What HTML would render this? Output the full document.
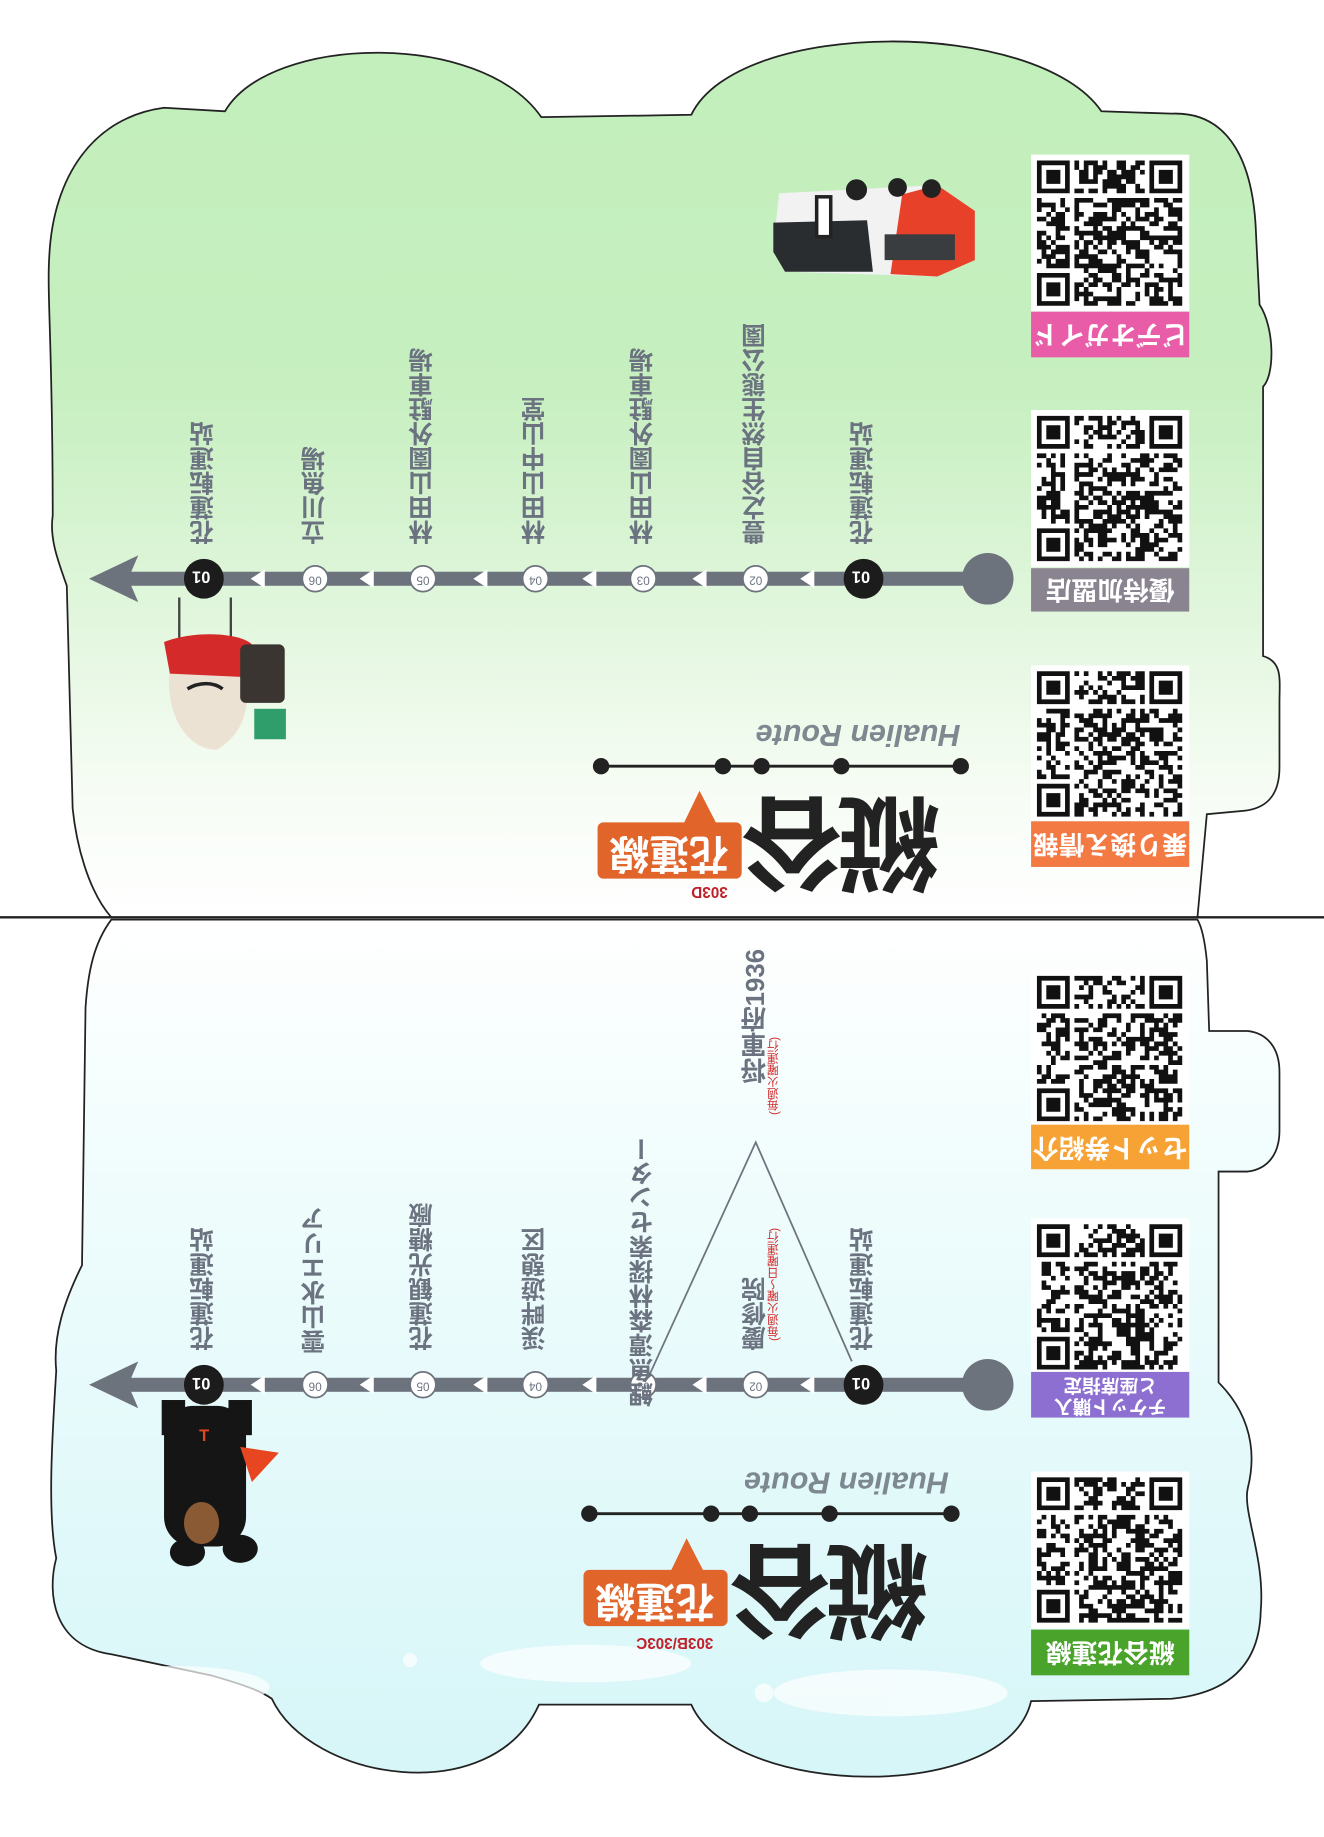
<!DOCTYPE html>
<html><head><meta charset="utf-8">
<style>
html,body{margin:0;padding:0;background:#fff;width:1324px;height:1837px;overflow:hidden}
#c{position:absolute;left:0;top:0;width:1130px;height:1568px;transform:scale(1.17168,1.17156);transform-origin:0 0;font-family:"Liberation Sans","Noto Sans CJK JP",sans-serif}
.v{position:absolute;writing-mode:vertical-rl;transform:rotate(180deg);font-size:21px;line-height:24px;font-weight:bold;color:#6b7380;white-space:nowrap}
.r{position:absolute;transform:rotate(180deg);white-space:nowrap}
.n{position:absolute;transform:rotate(180deg);font-size:10px;color:#6b7380;width:22px;text-align:center;line-height:12px}
.lab{position:absolute;width:135px;color:#fff;font-weight:bold;font-size:22px;text-align:center;transform:rotate(180deg);display:flex;align-items:center;justify-content:center;line-height:1}
.red{color:#d42a2a;font-size:10px;font-weight:normal}
</style></head><body>
<div id="c">
<svg width="1130" height="1568" viewBox="0 0 1130 1568" style="position:absolute;left:0;top:0">
<defs>
<linearGradient id="g1" x1="0" y1="0" x2="0" y2="1"><stop offset="0" stop-color="#c2efbb"/><stop offset="0.4" stop-color="#c7efc0"/><stop offset="0.85" stop-color="#f6fcf4"/><stop offset="1" stop-color="#ffffff"/></linearGradient>
<linearGradient id="g2" x1="0" y1="0" x2="0" y2="1"><stop offset="0" stop-color="#ffffff"/><stop offset="0.35" stop-color="#eefcfc"/><stop offset="1" stop-color="#d6f6f8"/></linearGradient>
</defs>
<path d="M95 783 C75 760 65 720 62 690 L57 500 C50 480 42 460 45 440 C45 300 40 250 42 220 C45 150 80 100 140 92 L192 95 C230 30 410 25 462 100 L590 98 C630 15 885 15 940 95 L1000 97 C1050 95 1070 140 1072 200 L1075 260 C1088 280 1088 320 1078 330 L1078 560 C1095 565 1092 580 1092 600 L1092 655 C1092 680 1080 690 1062 692 L1030 695 L1022 783 Z" fill="url(#g1)" stroke="#222" stroke-width="1.5"/>
<path d="M95 785 C80 805 75 830 73 860 L70 1080 C55 1110 45 1140 48 1170 C45 1220 40 1290 48 1330 C40 1360 45 1405 95 1412 L180 1430 C215 1440 225 1445 232 1450 C265 1520 420 1545 460 1455 L590 1455 C625 1535 860 1540 880 1452 L1000 1450 C1050 1445 1075 1420 1076 1375 C1080 1330 1060 1290 1065 1270 C1075 1230 1060 1200 1040 1180 L1040 1000 L1065 1000 C1082 998 1092 985 1092 965 L1092 915 C1092 895 1082 882 1065 880 L1032 880 L1030 820 C1028 800 1025 790 1022 785 Z" fill="url(#g2)" stroke="#222" stroke-width="1.5"/>
<g fill="#fff" opacity="0.7"><ellipse cx="150" cy="1440" rx="80" ry="18"/><ellipse cx="500" cy="1420" rx="90" ry="16"/><ellipse cx="760" cy="1445" rx="100" ry="20"/><circle cx="350" cy="1417" r="6"/><circle cx="652" cy="1445" r="8"/></g>
<line x1="0" y1="783" x2="1130" y2="783" stroke="#222" stroke-width="2"/>
<g>
<rect x="95" y="488" width="750" height="12" fill="#6c737d"/>
<circle cx="843" cy="494" r="22" fill="#6c737d"/>
<path d="M118 474 L76 494 L118 514 L112 500 L112 488 Z" fill="#6c737d"/>
<g fill="#fff"><path d="M695 486 L683 494 L695 502Z"/><path d="M603 486 L591 494 L603 502Z"/><path d="M509 486 L497 494 L509 502Z"/><path d="M416 486 L404 494 L416 502Z"/><path d="M319 486 L307 494 L319 502Z"/><path d="M226 486 L214 494 L226 502Z"/></g>
<circle cx="737" cy="494" r="17" fill="#1c1c1c"/><circle cx="174" cy="494" r="17" fill="#1c1c1c"/>
<g fill="#fff" stroke="#6c737d" stroke-width="1.5"><circle cx="645" cy="494" r="11"/><circle cx="549" cy="494" r="11"/><circle cx="457" cy="494" r="11"/><circle cx="361" cy="494" r="11"/><circle cx="269" cy="494" r="11"/></g>
</g>
<g>
<rect x="95" y="1176" width="750" height="12" fill="#6c737d"/>
<circle cx="843" cy="1182" r="22" fill="#6c737d"/>
<path d="M118 1162 L76 1182 L118 1202 L112 1188 L112 1176 Z" fill="#6c737d"/>
<g fill="#fff"><path d="M695 1174 L683 1182 L695 1190Z"/><path d="M603 1174 L591 1182 L603 1190Z"/><path d="M509 1174 L497 1182 L509 1190Z"/><path d="M416 1174 L404 1182 L416 1190Z"/><path d="M319 1174 L307 1182 L319 1190Z"/><path d="M226 1174 L214 1182 L226 1190Z"/></g>
<path d="M555 1172 L645 975 L727 1162" fill="none" stroke="#6c737d" stroke-width="1.5"/>
<circle cx="737" cy="1182" r="17" fill="#1c1c1c"/><circle cx="174" cy="1182" r="17" fill="#1c1c1c"/>
<g fill="#fff" stroke="#6c737d" stroke-width="1.5"><circle cx="645" cy="1182" r="11"/><circle cx="549" cy="1182" r="11"/><circle cx="457" cy="1182" r="11"/><circle cx="361" cy="1182" r="11"/><circle cx="269" cy="1182" r="11"/></g>
</g>
<line x1="513" y1="654" x2="820" y2="654" stroke="#222" stroke-width="2.5"/>
<g fill="#222"><circle cx="513" cy="654" r="7"/><circle cx="617" cy="654" r="7"/><circle cx="650" cy="654" r="7"/><circle cx="718" cy="654" r="7"/><circle cx="820" cy="654" r="7"/></g>
<rect x="510" y="702" width="123" height="48" rx="5" fill="#e1642a"/>
<path d="M583 704 L597 675 L612 704Z" fill="#e1642a"/>
<line x1="503" y1="1292" x2="812" y2="1292" stroke="#222" stroke-width="2.5"/>
<g fill="#222"><circle cx="503" cy="1292" r="7"/><circle cx="607" cy="1292" r="7"/><circle cx="640" cy="1292" r="7"/><circle cx="708" cy="1292" r="7"/><circle cx="812" cy="1292" r="7"/></g>
<rect x="498" y="1340" width="123" height="48" rx="5" fill="#e1642a"/>
<path d="M572 1342 L586 1313 L601 1342Z" fill="#e1642a"/>
<g>
<path d="M665 165 L800 158 L832 180 L832 222 L800 236 L670 232 L660 210 Z" fill="#f2f2f2"/>
<path d="M770 166 L800 158 L832 180 L832 222 L800 236 L760 234 Z" fill="#e8412a"/>
<path d="M660 190 L740 188 L745 232 L670 232 L660 215Z" fill="#2a2d30"/>
<rect x="755" y="200" width="60" height="22" fill="#3a3d40"/>
<circle cx="731" cy="162" r="9" fill="#222"/><circle cx="766" cy="160" r="8" fill="#222"/><circle cx="795" cy="161" r="8" fill="#222"/>
<rect x="697" y="168" width="12" height="34" fill="#fff" stroke="#222" stroke-width="3"/>
</g>
<g>
<line x1="153" y1="510" x2="153" y2="548" stroke="#444" stroke-width="2"/><line x1="197" y1="510" x2="197" y2="548" stroke="#444" stroke-width="2"/>
<path d="M145 570 C140 610 160 640 185 640 C210 625 215 600 208 570Z" fill="#ebe2d4"/>
<path d="M140 548 C165 538 205 540 215 550 L210 578 L145 575Z" fill="#d42a2a"/>
<rect x="205" y="550" width="38" height="50" rx="5" fill="#3a3530"/>
<rect x="217" y="605" width="27" height="26" fill="#2f9e6a"/>
<path d="M160 588 C170 582 182 582 190 588" stroke="#222" stroke-width="3" fill="none"/>
</g>
<g fill="#151515">
<rect x="140" y="1200" width="70" height="120" rx="25"/>
<ellipse cx="160" cy="1325" rx="15" ry="12"/><ellipse cx="205" cy="1322" rx="15" ry="12"/>
<rect x="138" y="1195" width="20" height="30"/><rect x="195" y="1195" width="20" height="30"/>
<ellipse cx="172" cy="1300" rx="15" ry="18" fill="#8a5a35"/>
<path d="M205 1235 L238 1240 L215 1265Z" fill="#e84620"/>
<text x="170" y="1230" fill="#e84620" font-size="14" font-weight="bold">T</text>
</g>
<g id="qrs"></g>
</svg>

<div class="v" style="left:725px;top:360px">花蓮転運站</div>
<div class="v" style="left:633px;top:276px">豊之谷自然生態公園</div>
<div class="v" style="left:537px;top:297px">林田山園外駐車場</div>
<div class="v" style="left:445px;top:339px">林田山中山堂</div>
<div class="v" style="left:349px;top:297px">林田山園外駐車場</div>
<div class="v" style="left:257px;top:381px">立川魚場</div>
<div class="v" style="left:162px;top:360px">花蓮転運站</div>
<div class="v" style="left:725px;top:1048px">花蓮転運站</div>
<div class="v" style="left:633px;top:1090px">慶修院</div>
<div class="v red" style="left:656px;top:1048px;line-height:12px">(毎週火曜〜日曜運行)</div>
<div class="v" style="left:537px;top:970px">鯉魚潭森林探索センター</div>
<div class="v" style="left:445px;top:1048px">渓畔遊憩区</div>
<div class="v" style="left:349px;top:1027px">花蓮観光糖廠</div>
<div class="v" style="left:257px;top:1030px">雲山水エリア</div>
<div class="v" style="left:162px;top:1048px">花蓮転運站</div>
<div class="v" style="left:633px;top:810px;font-size:22px">将軍府1936</div>
<div class="v red" style="left:656px;top:885px;line-height:12px">(毎週火曜運行)</div>
<div class="r" style="left:727px;top:485px;font-size:14px;color:#fff;font-weight:bold">01</div>
<div class="r" style="left:164px;top:485px;font-size:14px;color:#fff;font-weight:bold">01</div>
<div class="r" style="left:727px;top:1173px;font-size:14px;color:#fff;font-weight:bold">01</div>
<div class="r" style="left:164px;top:1173px;font-size:14px;color:#fff;font-weight:bold">01</div>
<div class="n" style="left:634px;top:488px">02</div><div class="n" style="left:538px;top:488px">03</div><div class="n" style="left:446px;top:488px">04</div><div class="n" style="left:350px;top:488px">05</div><div class="n" style="left:258px;top:488px">06</div>
<div class="n" style="left:634px;top:1176px">02</div><div class="n" style="left:538px;top:1176px">03</div><div class="n" style="left:446px;top:1176px">04</div><div class="n" style="left:350px;top:1176px">05</div><div class="n" style="left:258px;top:1176px">06</div>
<div class="r" style="left:645px;top:612px;font-size:26px;font-style:italic;font-weight:bold;color:#7d8890">Hualien Route</div>
<div class="r" style="left:638px;top:662px;font-size:88px;font-weight:bold;color:#222;letter-spacing:-6px">縦谷</div>
<div class="r" style="left:520px;top:707px;font-size:34px;font-weight:bold;color:#fff">花蓮線</div>
<div class="r" style="left:590px;top:754px;font-size:13px;font-weight:bold;color:#c0202a">303D</div>
<div class="r" style="left:635px;top:1250px;font-size:26px;font-style:italic;font-weight:bold;color:#7d8890">Hualien Route</div>
<div class="r" style="left:628px;top:1300px;font-size:88px;font-weight:bold;color:#222;letter-spacing:-6px">縦谷</div>
<div class="r" style="left:508px;top:1345px;font-size:34px;font-weight:bold;color:#fff">花蓮線</div>
<div class="r" style="left:543px;top:1395px;font-size:13px;font-weight:bold;color:#c0202a">303B/303C</div>
<div class="lab" style="left:880px;top:266px;height:39px;background:#e85ca8">ビデオガイド</div>
<div class="lab" style="left:880px;top:485px;height:37px;background:#8a8490">優待加盟店</div>
<div class="lab" style="left:880px;top:701px;height:39px;background:#f47a44">乗り換え情報</div>
<div class="lab" style="left:880px;top:960px;height:38px;background:#f7a235">セット券紹介</div>
<div class="lab" style="left:880px;top:1171px;height:39px;background:#8c6fd0;font-size:16px;flex-direction:column;line-height:18px"><span>チケット購入</span><span>と座席指定</span></div>
<div class="lab" style="left:880px;top:1391px;height:39px;background:#4aa32a">縦谷花蓮線</div>
</div>
<script>
(function(){
var pos=[[880,132],[880,350],[880,568],[880,828],[880,1040],[880,1256]];
var g=document.getElementById('qrs');var ns='http://www.w3.org/2000/svg';
var seed=7;function rnd(){seed=(seed*9301+49297)%233280;return seed/233280;}
pos.forEach(function(p){
 var bg=document.createElementNS(ns,'rect');bg.setAttribute('x',p[0]);bg.setAttribute('y',p[1]);bg.setAttribute('width',135);bg.setAttribute('height',134);bg.setAttribute('fill','#fff');g.appendChild(bg);
 var n=31,s=4,ox=p[0]+5,oy=p[1]+5,d='';
 for(var i=0;i<n;i++)for(var j=0;j<n;j++){
  var f=function(a,b){return a<7&&b<7||a<7&&b>=n-7||a>=n-7&&b<7;};
  var on;
  if(f(i,j)){var a=i<7?i:i-(n-7),b=j<7?j:j-(n-7);var m=Math.max(Math.abs(a-3),Math.abs(b-3));on=(m==3||m<=1);}
  else if(i==7||j==7||i==n-8&&j<8||j==n-8&&i<8)on=false;
  else on=rnd()<0.5;
  if(on)d+='M'+(ox+j*s)+' '+(oy+i*s)+'h'+s+'v'+s+'h-'+s+'z';
 }
 var pa=document.createElementNS(ns,'path');pa.setAttribute('d',d);pa.setAttribute('fill','#111');g.appendChild(pa);
});
})();
</script>
</body></html>
